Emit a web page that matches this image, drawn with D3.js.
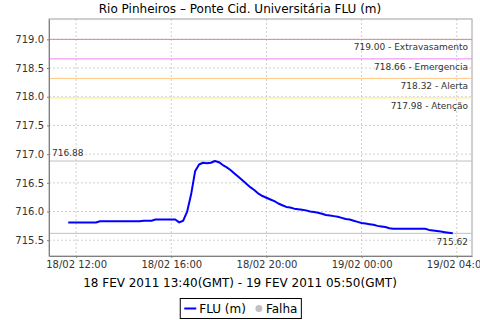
<!DOCTYPE html>
<html>
<head>
<meta charset="utf-8">
<script src="https://cdn.jsdelivr.net/npm/d3@7"></script>
<style>
  body { margin: 0; background: #fff; }
  svg { display: block; font-family: "DejaVu Sans", sans-serif; }
</style>
</head>
<body>
<svg id="chart" width="480" height="320"></svg>
<script>
/// data ///
const titleText = "Rio Pinheiros – Ponte Cid. Universitária FLU (m)";
const subtitleText = "18 FEV 2011 13:40(GMT) - 19 FEV 2011 05:50(GMT)";
// first reading (local time) and step between readings, minutes
const startTime = Date.UTC(2011, 1, 18, 11, 40);
const stepMinutes = 10;
// FLU (m), one reading every 10 min
const fluValues = [
  715.81, 715.81, 715.81, 715.81, 715.81, 715.81, 715.81, 715.81,
  715.83, 715.83, 715.83, 715.83, 715.83, 715.83, 715.83, 715.83, 715.83, 715.83, 715.83,
  715.84, 715.84, 715.84,
  715.86, 715.86, 715.86, 715.86, 715.86, 715.86,
  715.81, 715.84, 716.00, 716.30,
  716.70, 716.82, 716.85, 716.84, 716.85, 716.88,
  716.86, 716.81, 716.77, 716.72, 716.66, 716.60,
  716.54, 716.48, 716.42, 716.37, 716.31, 716.27,
  716.24, 716.21, 716.18, 716.14, 716.11, 716.08,
  716.07, 716.05, 716.04, 716.03, 716.02, 716.00,
  715.99, 715.98, 715.96, 715.94, 715.93, 715.92,
  715.91, 715.89, 715.87, 715.86, 715.84, 715.82,
  715.80, 715.79, 715.78, 715.77, 715.75, 715.74,
  715.73, 715.71,
  715.70, 715.70, 715.70, 715.70, 715.70, 715.70, 715.70, 715.70, 715.70,
  715.68, 715.67, 715.66, 715.65, 715.64, 715.63, 715.62
];
// threshold levels
const levelValues = [719.00, 718.66, 718.32, 717.98];
const levelNames = ["Extravasamento", "Emergencia", "Alerta", "Atenção"];
const levelColours = ["#f08080", "#ee82ee", "#ffc880", "#ffee66"];
// max / min markers
const maxValue = 716.88;
const minValue = 715.62;
// axis ticks
const yTicks = [715.5, 716.0, 716.5, 717.0, 717.5, 718.0, 718.5, 719.0];
const xTicks = [
  Date.UTC(2011, 1, 18, 12), Date.UTC(2011, 1, 18, 16), Date.UTC(2011, 1, 18, 20),
  Date.UTC(2011, 1, 19, 0), Date.UTC(2011, 1, 19, 4)
].map(t => new Date(t));
const legendLabels = ["FLU (m)", "Falha"];

const data = fluValues.map((v, i) => ({
  time: new Date(startTime + i * stepMinutes * 60000),
  value: v
}));

/// dimensions ///
const width = 480, height = 320;
const margin = { top: 19, right: 8, bottom: 64, left: 49 };
const plotW = width - margin.left - margin.right;
const plotH = height - margin.top - margin.bottom;

const svg = d3.select("#chart");
const g = svg.append("g").attr("transform", `translate(${margin.left},${margin.top})`);

/// scales ///
const tExtent = d3.extent(data, d => d.time);
const span = tExtent[1] - tExtent[0];
const xScale = d3.scaleUtc()
  .domain([new Date(+tExtent[0] - span * 0.05), new Date(+tExtent[1] + span * 0.05)])
  .range([0, plotW]);
const yScale = d3.scaleLinear()
  .domain([715.225, 719.355])
  .range([plotH, 0]);

// grid
g.selectAll(".vgrid").data(xTicks).join("line")
  .attr("x1", d => xScale(d)).attr("x2", d => xScale(d))
  .attr("y1", 0).attr("y2", plotH)
  .attr("stroke", "#d0d0d0").attr("stroke-dasharray", "2,2");
g.selectAll(".hgrid").data(yTicks).join("line")
  .attr("x1", 0).attr("x2", plotW)
  .attr("y1", d => yScale(d)).attr("y2", d => yScale(d))
  .attr("stroke", "#d0d0d0").attr("stroke-dasharray", "2,2");

// plot outline
g.append("rect").attr("width", plotW).attr("height", plotH)
  .attr("fill", "none").attr("stroke", "#a0a0a0");

// threshold lines + labels
g.selectAll(".level").data(levelValues).join("line")
  .attr("x1", 0).attr("x2", plotW)
  .attr("y1", d => yScale(d)).attr("y2", d => yScale(d))
  .attr("stroke", (d, i) => levelColours[i]).attr("stroke-width", 1);
g.selectAll(".level-text").data(levelValues).join("text")
  .attr("x", plotW - 4)
  .attr("y", d => yScale(d) + 11)
  .attr("text-anchor", "end")
  .attr("font-size", "9px")
  .attr("fill", "#333")
  .text((d, i) => `${d.toFixed(2)} - ${levelNames[i]}`);

// max/min lines
g.selectAll(".mark").data([maxValue, minValue]).join("line")
  .attr("x1", 0).attr("x2", plotW)
  .attr("y1", d => yScale(d)).attr("y2", d => yScale(d))
  .attr("stroke", "#c0c0c0");
g.append("text").attr("x", 3).attr("y", yScale(maxValue) - 5)
  .attr("font-size", "9px").attr("fill", "#333").text(maxValue.toFixed(2));
g.append("text").attr("x", plotW - 4).attr("y", yScale(minValue) + 12)
  .attr("text-anchor", "end")
  .attr("font-size", "9px").attr("fill", "#333").text(minValue.toFixed(2));

// series line
const line = d3.line().x(d => xScale(d.time)).y(d => yScale(d.value));
g.append("path").datum(data)
  .attr("d", line)
  .attr("fill", "none")
  .attr("stroke", "#0000ff")
  .attr("stroke-width", 2)
  .attr("stroke-linejoin", "round");

/// axes ///
const yAxis = g.append("g")
  .call(d3.axisLeft(yScale).tickValues(yTicks).tickFormat(d3.format(".1f")).tickSize(2).tickSizeOuter(0))
  .call(a => a.select(".domain").attr("stroke", "#808080"))
  .call(a => a.selectAll(".tick line").attr("stroke", "#808080"))
  .call(a => a.selectAll("text").attr("font-size", "10px").attr("fill", "#333")
    .attr("font-family", "DejaVu Sans"));

const xAxis = g.append("g").attr("transform", `translate(0,${plotH})`)
  .call(d3.axisBottom(xScale).tickValues(xTicks).tickFormat(d3.utcFormat("%d/%m %H:%M")).tickSize(2).tickSizeOuter(0))
  .call(a => a.select(".domain").attr("stroke", "#808080"))
  .call(a => a.selectAll(".tick line").attr("stroke", "#808080"))
  .call(a => a.selectAll("text").attr("font-size", "10px").attr("fill", "#333")
    .attr("font-family", "DejaVu Sans"));

/// titles ///
svg.append("text").attr("x", width / 2).attr("y", 13)
  .attr("text-anchor", "middle").attr("font-size", "12px").attr("fill", "#000")
  .text(titleText);
svg.append("text").attr("x", width / 2).attr("y", 287)
  .attr("text-anchor", "middle").attr("font-size", "12px").attr("fill", "#000")
  .text(subtitleText);

/// legend ///
const legend = svg.append("g");
const lg = legend.append("g");
let cx = 4;
lg.append("line").attr("x1", cx).attr("x2", cx + 12).attr("y1", 0).attr("y2", 0)
  .attr("stroke", "#0000ff").attr("stroke-width", 2);
cx += 15;
const t1 = lg.append("text").attr("x", cx).attr("y", 4).attr("font-size", "12px").text(legendLabels[0]);
cx += t1.node().getComputedTextLength() + 10;
lg.append("circle").attr("cx", cx + 3).attr("cy", 0).attr("r", 3.5).attr("fill", "#c0c0c0");
cx += 10;
const t2 = lg.append("text").attr("x", cx).attr("y", 4).attr("font-size", "12px").text(legendLabels[1]);
cx += t2.node().getComputedTextLength() + 4;
const legW = cx;
legend.insert("rect", ":first-child")
  .attr("x", 0).attr("y", -10).attr("width", legW).attr("height", 20)
  .attr("fill", "#fff").attr("stroke", "#000");
legend.attr("transform", `translate(${240.8 - legW / 2},308.5)`);
</script>
</body>
</html>
